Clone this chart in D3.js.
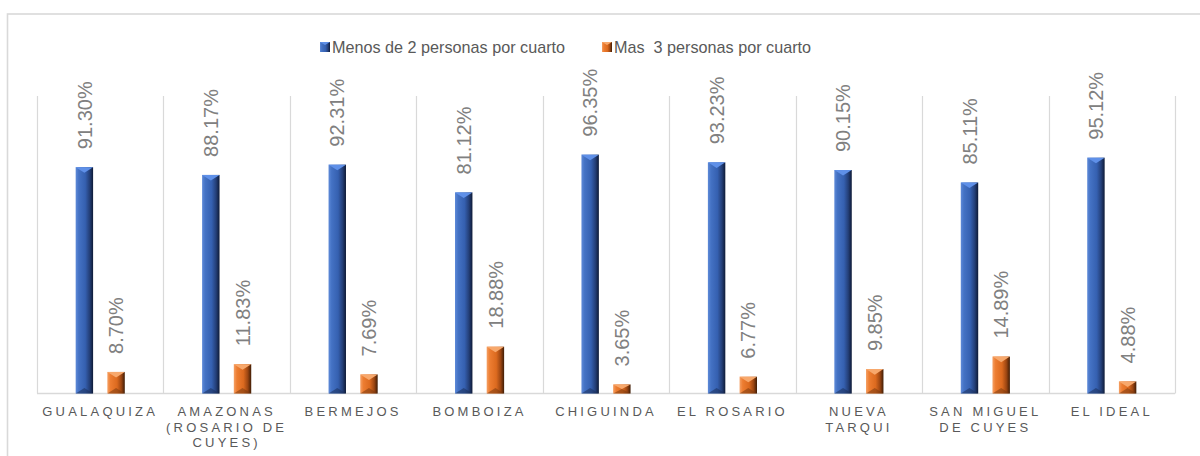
<!DOCTYPE html>
<html>
<head>
<meta charset="utf-8">
<script src="https://cdn.jsdelivr.net/npm/d3@7/dist/d3.min.js"></script>
<style>
  html, body { margin: 0; padding: 0; background: #ffffff; }
  svg { display: block; font-family: "Liberation Sans", Arial, sans-serif; }
</style>
</head>
<body>
<svg id="chart" width="1200" height="456"></svg>
<script>
// Parroquias and their share of households by persons per room
const categories = [
  "GUALAQUIZA", "AMAZONAS (ROSARIO DE CUYES)", "BERMEJOS", "BOMBOIZA", "CHIGUINDA",
  "EL ROSARIO", "NUEVA TARQUI", "SAN MIGUEL DE CUYES", "EL IDEAL"
];
const seriesNames = ["Menos de 2 personas por cuarto", "Mas  3 personas por cuarto"];
const menosDe2 = [91.30, 88.17, 92.31, 81.12, 96.35, 93.23, 90.15, 85.11, 95.12];
const masDe3   = [8.70, 11.83, 7.69, 18.88, 3.65, 6.77, 9.85, 14.89, 4.88];
const yMax = 120;

const svg = d3.select("#chart");
const W = 1200, H = 456;
const plot = { left: 37, right: 1175, top: 96, bottom: 393.5 };

// outer chart frame (runs off the right and bottom edges)
svg.append("rect")
  .attr("x", 7.5).attr("y", 14)
  .attr("width", W + 20).attr("height", H + 20)
  .attr("fill", "none").attr("stroke", "#d9d9d9").attr("stroke-width", 1.6);

const x0 = d3.scaleBand().domain(categories).range([plot.left, plot.right]).padding(0);
const x1 = d3.scaleBand().domain([0, 1]).range([0, x0.bandwidth()])
  .paddingInner(0.45).paddingOuter(1.22);
const y = d3.scaleLinear().domain([0, yMax]).range([plot.bottom, plot.top]);

// gradients giving the bars a bevelled look
const defs = svg.append("defs");
const palettes = [
  { id: "gBlue", stops: [["0%", "#5e8ad8"], ["18%", "#4472c4"], ["55%", "#3560b0"], ["80%", "#243f78"], ["100%", "#0e1a36"]], top: "#5f90e8", bottom: "#1c2f5a" },
  { id: "gOrange", stops: [["0%", "#f5a064"], ["18%", "#ed7d31"], ["55%", "#dc6a1f"], ["80%", "#9c4612"], ["100%", "#3f1c05"]], top: "#f7a86c", bottom: "#7a3a10" }
];
palettes.forEach(p => {
  const g = defs.append("linearGradient").attr("id", p.id)
    .attr("x1", "0%").attr("x2", "100%").attr("y1", "0%").attr("y2", "0%");
  p.stops.forEach(s => g.append("stop").attr("offset", s[0]).attr("stop-color", s[1]));
});

// vertical gridlines at category boundaries
const bounds = categories.map(c => x0(c)).concat([plot.right]);
svg.append("g").selectAll("line").data(bounds).join("line")
  .attr("x1", d => Math.round(d) + 0.5).attr("x2", d => Math.round(d) + 0.5)
  .attr("y1", plot.top).attr("y2", plot.bottom)
  .attr("stroke", "#d9d9d9").attr("stroke-width", 1.2);

// category axis line
svg.append("line")
  .attr("x1", plot.left).attr("x2", plot.right)
  .attr("y1", plot.bottom).attr("y2", plot.bottom)
  .attr("stroke", "#d9d9d9").attr("stroke-width", 1.5);

const rows = [];
categories.forEach((c, i) => {
  rows.push({ cat: c, s: 0, v: menosDe2[i] });
  rows.push({ cat: c, s: 1, v: masDe3[i] });
});

const bars = svg.append("g").selectAll("g.bar").data(rows).join("g").attr("class", "bar");
bars.each(function (d) {
  const g = d3.select(this);
  const p = palettes[d.s];
  const bx = x0(d.cat) + x1(d.s);
  const bw = x1.bandwidth();
  const top = y(d.v);
  const h = plot.bottom - top;
  g.append("rect")
    .attr("x", bx).attr("y", top).attr("width", bw).attr("height", h)
    .attr("fill", `url(#${p.id})`);
  const tri = Math.min(bw * 0.32, h / 2);
  // top facet
  g.append("path")
    .attr("d", `M${bx},${top} L${bx + bw},${top} L${bx + bw / 2},${top + tri} Z`)
    .attr("fill", p.top);
  // bottom facet
  g.append("path")
    .attr("d", `M${bx},${plot.bottom} L${bx + bw},${plot.bottom} L${bx + bw / 2},${plot.bottom - tri} Z`)
    .attr("fill", p.bottom).attr("opacity", 0.55);
  // value label, rotated
  const lx = bx + bw / 2;
  const ly = top - 18;
  g.append("text")
    .attr("transform", `translate(${lx},${ly}) rotate(-90)`)
    .attr("text-anchor", "start")
    .attr("dy", "0.36em")
    .attr("font-size", 20)
    .attr("fill", "#808080")
    .text(d.v.toFixed(2) + "%");
});

// category labels, wrapped to the band width
const labelG = svg.append("g");
categories.forEach(c => {
  const cx = x0(c) + x0.bandwidth() / 2;
  const t = labelG.append("text")
    .attr("x", cx).attr("y", 416)
    .attr("text-anchor", "middle")
    .attr("font-size", 13)
    .attr("letter-spacing", 3.2)
    .attr("fill", "#595959");
  const words = c.split(" ");
  const maxW = x0.bandwidth() - 2;
  let line = [];
  let lineNo = 0;
  let ts = t.append("tspan").attr("x", cx).attr("y", 416);
  words.forEach(w => {
    line.push(w);
    ts.text(line.join(" "));
    if (ts.node().getComputedTextLength() > maxW && line.length > 1) {
      line.pop();
      ts.text(line.join(" "));
      line = [w];
      lineNo++;
      ts = t.append("tspan").attr("x", cx).attr("y", 416 + lineNo * 15.6).text(w);
    }
  });
});

// legend
const legend = svg.append("g");
const legendItems = [
  { name: seriesNames[0], x: 320, grad: "gBlue", top: "#5f90e8" },
  { name: seriesNames[1], x: 602, grad: "gOrange", top: "#f7a86c" }
];
legendItems.forEach(it => {
  legend.append("rect").attr("x", it.x).attr("y", 42).attr("width", 10).attr("height", 10)
    .attr("fill", `url(#${it.grad})`);
  legend.append("path")
    .attr("d", `M${it.x},42 L${it.x + 10},42 L${it.x + 5},45 Z`).attr("fill", it.top);
  legend.append("text")
    .attr("x", it.x + 12).attr("y", 53)
    .attr("font-size", 16.2)
    .attr("fill", "#595959")
    .style("white-space", "pre")
    .text(it.name);
});
</script>
</body>
</html>
